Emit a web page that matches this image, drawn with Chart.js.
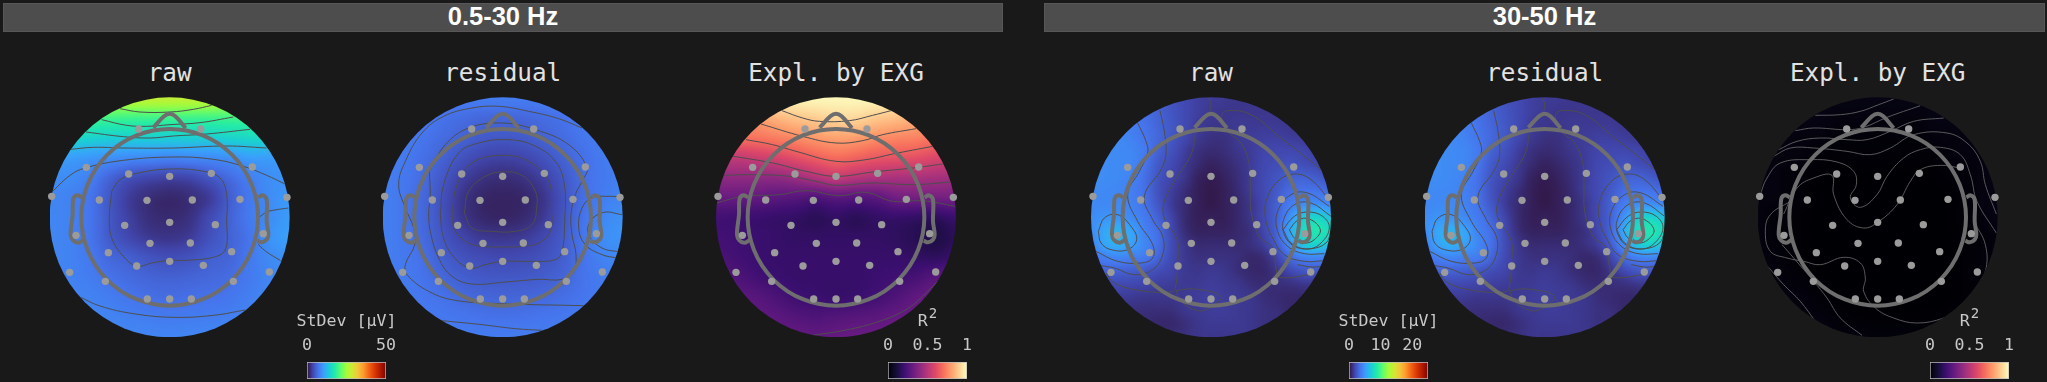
<!DOCTYPE html>
<html><head><meta charset="utf-8">
<script src="https://cdn.jsdelivr.net/npm/chart.js@4"></script>
<style>
html,body{margin:0;padding:0;background:#191919;width:2047px;height:382px;overflow:hidden}
#root{position:relative;width:2047px;height:382px}
.hdr{position:absolute;top:3px;height:27px;background:#4d4d4d;border:1px solid #575757;color:#fff;font:bold 25.5px "Liberation Sans",Arial,sans-serif;line-height:25px;text-align:center;box-sizing:content-box}
.ttl{position:absolute;top:57px;width:240px;text-align:center;color:#e2e2e2;font:24.3px/32px "DejaVu Sans Mono",monospace}
.lg{position:absolute;top:311px;width:160px;text-align:center;color:#c8c8c8;font:16.6px/20px "DejaVu Sans Mono",monospace;white-space:pre}
.lg sup{font-size:14px;line-height:0;position:relative;vertical-align:baseline;top:-8px;margin-left:1px}
canvas{position:absolute;display:block}
</style></head><body><div id="root"></div>
<script>
// ---------- labels ----------
const bandLabels=["0.5-30 Hz","30-50 Hz"];
const panelTitles=["raw","residual","Expl. by EXG","raw","residual","Expl. by EXG"];

// ---------- sensor positions (scalp units, head 0 centred at 389,388) ----------
const sensorX=[296,482,139,266,389,514,637,35,178,321,457,600,741,254,389,526,108,670,330,451,205,575,290,389,490,89,688,196,580,322,389,454];
const sensorY=[123,123,238,258,265,256,237,325,336,337,336,334,328,412,403,410,442,437,466,465,494,491,534,520,532,553,552,580,580,633,633,633];
const noseLine=[[340,119],[372,85],[389,77],[406,85],[437,120]];
const earLeft=[[125,328],[112,322],[100,332],[98,380],[92,440],[100,458],[115,464],[130,456]];
const earRight=[[655,328],[668,322],[680,335],[680,400],[685,440],[680,455],[665,463],[652,458]];

// ---------- field values ----------
const field1=[ // StDev uV, 0.5-30 Hz raw
[26,26.5,27,27,27.5,27.5,27.5,27.5,27.5,27,27,26.5,26],
[20,20,20,19.8,19.6,19.6,19.6,19.6,19.6,19.8,20,20,20],
[15.5,15.5,15,14.5,14.5,14.5,14.5,14.5,14.5,15,15.5,15.5,15.5],
[10.5,10.5,10,9.5,9,8.8,8.5,8.8,9,9.5,10.5,10.5,10.5],
[9,9,8,6,4.5,3.8,3.5,3.8,5,6.5,8,9.2,9.5],
[8.5,8.2,7.2,5,3,2,1.6,2,3,5.5,7.5,9,10],
[8.5,8.2,7.2,5,3.2,2,1.8,2.2,4,5.8,7.6,9,10.2],
[8.5,8.2,7.2,5.2,3.8,2.8,2.5,3,4.5,5.8,7.2,9.5,10.5],
[8.5,8.2,7.5,6.2,5.5,4.7,4.3,4.6,5.5,6,7.5,8.8,9.5],
[8.5,8.2,7.8,7,6.4,5.9,5.7,5.9,6.2,6.6,7.6,8.5,8.8],
[8.6,8.4,8.2,7.8,7.2,6.8,6.6,6.8,7,7.3,8,8.5,8.8],
[8.8,8.6,8.5,8.3,8,7.8,7.6,7.7,7.8,8,8.3,8.6,8.8],
[9,9,8.8,8.7,8.6,8.5,8.4,8.5,8.6,8.7,8.8,9,9]];
const field2=[ // StDev uV, 0.5-30 Hz residual
[7.8,7.8,7.8,7.8,7.8,7.8,7.8,7.8,7.8,7.8,7.8,7.8,7.8],
[8,8,7.6,7,6.6,6.2,6.2,6.2,6.6,7,7.6,8,8],
[8,7.8,7.2,6.5,5.8,5.2,5,5.2,5.8,6.5,7.2,7.8,8],
[8,7.6,6.8,5.8,4.6,3.7,3.4,3.7,4.6,5.8,6.8,7.6,8],
[8,7.4,6.5,5,3.3,2.3,2,2.3,3.3,5,6.6,7.5,8],
[8,7.3,6.2,4.5,2.5,1.5,1.3,1.5,2.5,4.6,6.6,7.8,8.4],
[8,7.3,6.2,4.5,2.6,1.6,1.4,1.7,2.8,4.8,7,8.5,9.3],
[8,7.4,6.4,4.9,3.6,2.8,2.6,2.9,3.8,5.2,7.2,9,9.6],
[8,7.5,6.8,5.5,4.6,4.1,3.9,4.1,4.6,5.5,7,8.2,8.7],
[8,7.6,7,6.2,5.5,5.1,5,5.1,5.4,6,7,7.7,8],
[8,7.7,7.3,6.9,6.4,6.1,6,6.1,6.3,6.7,7.2,7.6,7.9],
[8,7.9,7.6,7.4,7.2,7,6.9,7,7.2,7.4,7.6,7.8,8],
[8,8,7.9,7.8,7.8,7.7,7.7,7.8,7.8,7.9,7.9,8,8]];
const field3=[ // R2, 0.5-30 Hz
[.93,.95,.97,.98,.99,.99,.99,.99,.99,.98,.97,.95,.93],
[.76,.78,.80,.85,.88,.90,.92,.92,.89,.87,.84,.80,.78],
[.70,.70,.71,.73,.76,.79,.81,.80,.77,.75,.74,.71,.70],
[.55,.53,.55,.58,.62,.66,.69,.67,.64,.63,.62,.59,.57],
[.41,.41,.41,.41,.44,.49,.53,.50,.48,.47,.47,.46,.45],
[.31,.31,.30,.28,.27,.25,.28,.27,.28,.33,.34,.34,.34],
[.22,.21,.20,.19,.18,.16,.18,.16,.18,.19,.18,.17,.20],
[.22,.21,.20,.19,.18,.18,.18,.18,.18,.17,.15,.13,.16],
[.24,.22,.20,.19,.19,.19,.19,.19,.19,.19,.18,.17,.20],
[.28,.25,.22,.20,.19,.19,.19,.19,.20,.21,.23,.27,.29],
[.30,.28,.27,.24,.21,.20,.19,.20,.22,.25,.29,.31,.32],
[.30,.30,.29,.28,.26,.25,.26,.27,.28,.30,.31,.31,.32],
[.30,.30,.30,.30,.30,.29,.30,.31,.31,.31,.31,.31,.32]];
const field4=[ // StDev uV, 30-50 Hz raw
[4.3,4,3.8,3.5,3,2.8,2.3,2,1.6,1.5,1.4,1.3,1.3,1.3,1.3,1.3,1.3,1.3,1.3],
[4.3,4.3,4,3.8,3.3,2.9,2.4,2,1.6,1.4,1.3,1.3,1.3,1.3,1.3,1.3,1.3,1.3,1.3],
[4.5,4.4,4.3,3.9,3.5,3,2.5,2,1.5,1.3,1.3,1.4,1.4,1.4,1.4,1.3,1.3,1.3,1.3],
[4.5,4.5,4.4,4.1,3.6,3.1,2.5,1.9,1.4,1.1,1.1,1.4,1.5,1.6,1.6,1.5,1.4,1.3,1.3],
[4.5,4.5,4.4,4.3,3.8,2.9,2.3,1.6,1.1,.9,1,1.3,1.5,1.8,1.9,1.9,1.8,1.5,1.3],
[4.5,4.5,4.4,4.3,3.6,2.6,2,1.4,.9,.6,.8,1.1,1.5,1.9,2.1,2.3,2.1,1.9,1.5],
[4.5,4.5,4.4,4.1,3.4,2.4,1.8,1.3,.6,.4,.6,1,1.5,2,2.4,2.8,2.9,2.6,2.3],
[4.4,4.4,4.3,4,3.4,2.3,1.6,1,.5,.3,.5,.9,1.5,2,2.6,3.3,3.5,3.5,3.1],
[4.3,4.4,4.4,4.1,3.5,2.5,1.5,.9,.5,.3,.5,.8,1.3,2,2.9,3.9,4.5,4.6,4.3],
[4.5,4.8,4.8,4.4,3.8,2.9,1.8,.9,.5,.5,.5,.8,1.3,2,3,4.9,7,7.5,6.6],
[4.5,5.5,6,5.4,4.1,3.3,2,1,.6,.6,.6,.8,1.1,1.9,3.1,5.8,8,8.5,7.8],
[4.1,5.4,5.9,5.3,4.3,3.4,2.1,1.3,.9,.9,.9,.9,1.1,1.6,2.8,4.8,7,7.4,6.6],
[3.5,4,4.3,4,3.8,3,2,1.4,1.1,1.1,1.1,1,.8,1,1.9,3.3,4.1,4.3,3.8],
[2.8,2.9,2.9,2.8,2.5,2.1,1.8,1.4,1.3,1.4,1.3,1,.8,.8,1.3,2,2.5,2.5,2.3],
[2,2,2,1.9,1.8,1.6,1.5,1.4,1.4,1.5,1.4,1.3,1,.9,1,1.1,1.3,1.3,1.1],
[1.5,1.5,1.5,1.4,1.3,1.3,1.3,1.4,1.5,1.6,1.5,1.4,1.3,1,.9,.8,.8,.8,.8],
[1.3,1.3,1.3,1.1,1,1,1,1.3,1.4,1.5,1.5,1.4,1.3,1.1,1,.8,.8,.8,.8],
[1.3,1.3,1.3,1,.9,.8,.8,1,1.3,1.4,1.4,1.4,1.3,1.1,1.1,1,.8,.8,.8],
[1.3,1.3,1.3,1,.9,.9,1,1.1,1.3,1.3,1.3,1.3,1.3,1.3,1.3,1.3,1,1,1]];
const field5=field4; // residual 30-50 Hz reads the same as raw at this precision
const field6=[ // R2, 30-50 Hz
[.03,.03,.03,.03,.03,.03,.03,.03,.03,.03,.03,.03,.03],
[.03,.03,.03,.03,.02,.02,.02,.02,.02,.03,.03,.03,.03],
[.03,.03,.02,.02,.01,.01,.01,.01,.01,.02,.02,.03,.03],
[.03,.02,.02,.01,.005,.005,.005,.005,.005,.01,.02,.02,.03],
[.03,.02,.01,.003,0,0,0,0,0,.003,.01,.02,.03],
[.02,.02,.01,0,0,0,0,0,0,0,.005,.02,.03],
[.02,.01,.005,0,0,0,0,0,0,0,.005,.015,.03],
[.02,.01,.005,0,0,0,0,0,0,0,.003,.01,.02],
[.02,.015,.005,0,0,0,0,0,0,0,.003,.01,.02],
[.03,.02,.01,.002,0,0,0,0,0,0,.003,.01,.02],
[.03,.02,.02,.01,.002,0,0,0,0,0,.003,.01,.02],
[.03,.03,.02,.02,.01,.005,.003,.003,.003,.005,.01,.015,.02],
[.03,.03,.03,.03,.02,.02,.015,.015,.015,.02,.02,.02,.03]];

// ---------- contour lines (scalp units) ----------
const contours1=[
[[240,62],[300,72],[390,72],[460,64],[515,52]],
[[185,95],[260,112],[320,115],[390,110],[480,104],[580,87]],
[[138,132],[250,146],[330,150],[400,144],[500,138],[630,124]],
[[92,184],[160,178],[250,180],[400,180],[560,174],[680,180]],
[[38,310],[90,262],[135,240],[250,217],[400,207],[520,214],[610,235],[680,262],[735,288]],
[[215,310],[240,275],[290,256],[390,243],[490,250],[540,270],[560,320],[560,400],[558,480],[530,505],[440,517],[389,517],[340,524],[290,534],[250,505],[215,450],[208,390],[215,310]],
[[655,390],[680,372],[705,366],[745,360]],
[[655,470],[680,492],[722,518]],
[[122,628],[180,654],[280,677],[400,688],[520,682],[615,666]]];
const contours2=[
[[630,120],[560,92],[470,70],[380,55],[300,60],[215,85],[150,135],[100,220],[80,290],[100,360],[125,420],[128,470],[100,530],[105,560],[170,610],[250,637],[390,647],[635,653]],
[[172,250],[175,330],[170,370],[175,430],[200,510],[240,565],[300,588],[400,582],[500,574],[570,574],[605,550],[612,500],[600,440],[597,380],[610,320],[630,280],[645,240],[590,170],[490,125],[390,105],[290,120],[220,170],[172,250]],
[[205,380],[215,290],[260,195],[320,165],[400,155],[480,170],[550,220],[577,290],[578,400],[570,490],[550,515],[470,520],[392,520],[340,530],[292,540],[240,500],[212,440],[205,380]],
[[240,380],[255,290],[300,225],[390,202],[470,220],[530,280],[538,360],[535,430],[500,465],[450,475],[390,477],[330,475],[290,465],[250,430],[240,380]],
[[277,375],[290,310],[340,265],[390,252],[450,262],[490,310],[494,360],[480,410],[430,430],[360,430],[300,420],[277,375]],
[[750,326],[700,325],[660,328],[630,360],[620,420],[640,470],[690,500],[735,510]],
[[750,380],[695,373],[655,400],[650,440],[690,480],[745,492]],
[[210,698],[330,710],[430,722],[510,727]]];
const contours3=[
[[228,68],[290,90],[340,100],[430,98],[500,82],[555,68]],
[[165,108],[290,145],[390,165],[470,158],[530,140],[630,122]],
[[120,155],[200,170],[270,190],[390,220],[480,215],[560,198],[680,175]],
[[82,205],[200,225],[300,250],[390,265],[500,252],[620,240],[710,228]],
[[55,262],[140,260],[250,265],[330,280],[390,292],[500,285],[620,290],[735,282]],
[[32,345],[110,325],[220,320],[300,308],[400,323],[480,313],[560,340],[650,338],[748,355]],
[[320,742],[420,726],[520,700],[600,665],[650,625],[695,580]]];
const contours4=[
[[383,30],[390,50],[385,78]],
[[237,68],[250,130],[255,200],[240,245],[190,325],[215,395],[245,445],[245,500],[215,545],[160,560],[100,540],[60,533]],
[[170,105],[195,160],[200,195],[175,250],[140,320],[170,400],[215,470],[215,510],[180,525],[110,520],[45,490]],
[[345,130],[330,200],[280,280],[250,340],[250,390],[290,460],[290,530],[283,600],[270,612],[180,608],[100,585],[75,555]],
[[285,608],[340,603],[420,625],[385,660],[350,668],[300,640],[285,608]],
[[725,250],[690,220],[600,150],[510,80],[440,68],[422,85],[440,130],[480,165],[505,230],[508,300],[510,370],[535,445],[575,480],[585,540],[595,568],[700,558]],
[[748,340],[690,275],[640,258],[590,280],[555,340],[555,400],[575,450],[610,500],[670,520],[730,518]],
[[745,355],[680,315],[630,320],[590,370],[590,430],[620,475],[670,497],[730,497]],
[[750,385],[690,345],[640,350],[608,395],[610,440],[640,475],[690,482],[735,465],[750,430]],
[[606,425],[640,385],[680,372],[725,385],[745,420],[720,465],[680,483],[630,465],[606,425]],
[[625,425],[650,397],[685,393],[718,425],[700,455],[670,465],[640,450],[625,425]],
[[650,530],[690,537],[725,535]],
[[52,430],[70,390],[110,380],[150,415],[167,455],[140,485],[90,485],[60,465],[52,430]]];
const contours5=contours4;
const contours6=[
[[205,82],[280,80],[340,70],[395,50],[440,33]],
[[145,128],[200,120],[300,125],[350,118],[420,88],[520,53]],
[[95,185],[150,160],[220,150],[300,155],[360,155],[430,130],[500,100],[590,90]],
[[80,205],[130,180],[200,180],[300,190],[370,200],[430,180],[500,140],[600,135],[660,165],[700,220],[715,290],[748,378]],
[[38,325],[60,270],[100,225],[190,215],[270,222],[320,250],[328,290],[310,330],[340,358],[390,320],[420,265],[470,210],[520,185],[580,178],[640,200],[670,260],[690,340],[748,435]],
[[110,378],[150,300],[200,270],[255,262],[260,320],[300,395],[350,420],[392,403],[450,350],[490,280],[520,245],[580,232],[640,240]],
[[130,340],[70,380],[55,430],[70,490],[120,510],[170,520],[220,530],[290,508],[340,525],[355,570],[350,610],[385,660],[440,690],[510,705],[590,690],[670,650],[715,550],[715,470],[680,400]],
[[62,535],[110,590],[160,640],[205,700]],
[[105,470],[140,510],[200,580],[240,630],[280,690],[345,742]]];

// ---------- colormaps ----------
const turboStops=["#30123B","#4145AB","#4675ED","#39A2FC","#1BCFD4","#24ECA6","#61FC6C","#A4FC3B","#D1E834","#F3C63A","#FE9B2D","#F36315","#D93806","#B11901","#7A0402"];
const magmaStops=["#000004","#140E36","#3B0F70","#641A80","#8C2981","#B73779","#DE4968","#F7705C","#FE9F6D","#FECF92","#FCFDBF"];
const rgb=h=>[parseInt(h.slice(1,3),16),parseInt(h.slice(3,5),16),parseInt(h.slice(5,7),16)];
function cmap(stops,t){t=Math.max(0,Math.min(1,t))*(stops.length-1);const i=Math.min(stops.length-2,Math.floor(t)),f=t-i,a=rgb(stops[i]),b=rgb(stops[i+1]);return [0,1,2].map(k=>a[k]+(b[k]-a[k])*f);}

// ---------- layout ----------
const panels=[
{left:40, cx:389,field:field1,lines:contours1,shift:0,stops:turboStops,vmax:50},
{left:372,cx:392,field:field2,lines:contours2,shift:0,stops:turboStops,vmax:50},
{left:706,cx:390,field:field3,lines:contours3,shift:0,stops:magmaStops,vmax:1},
{left:1081,cx:390,field:field4,lines:contours4,shift:0,stops:turboStops,vmax:25},
{left:1414,cx:392,field:field5,lines:contours5,shift:2,stops:turboStops,vmax:25},
{left:1747,cx:392,field:field6,lines:contours6,shift:0,stops:magmaStops,vmax:1,light:true}];
const CY=388,R=360,HEAD=265;
const colorbars=[
{left:307,vmax:50,ticks:[0,50],stops:turboStops,title:"StDev [μV]"},
{left:888,vmax:1,ticks:[0,.5,1],stops:magmaStops,title:"R<sup>2</sup>"},
{left:1349,vmax:25,ticks:[0,10,20],stops:turboStops,title:"StDev [μV]"},
{left:1930,vmax:1,ticks:[0,.5,1],stops:magmaStops,title:"R<sup>2</sup>"}];

const root=document.getElementById("root");
function addDiv(cls,html,style){const d=document.createElement("div");d.className=cls;d.innerHTML=html;Object.assign(d.style,style);root.appendChild(d);return d;}
addDiv("hdr",bandLabels[0],{left:"3px",width:"998px"});
addDiv("hdr",bandLabels[1],{left:"1044px",width:"999px"});

function catmull(p0,p1,p2,p3,t){return .5*(2*p1+(p2-p0)*t+(2*p0-5*p1+4*p2-p3)*t*t+(3*p1-p0-3*p2+p3)*t*t*t);}
function sample(m,u,v){ // u,v in grid index space
  const rows=m.length,cols=m[0].length,g=(r,c)=>m[Math.max(0,Math.min(rows-1,r))][Math.max(0,Math.min(cols-1,c))];
  const c=Math.floor(u),r=Math.floor(v),fu=u-c,fv=v-r,w=[];
  for(let j=-1;j<3;j++)w.push(catmull(g(r+j,c-1),g(r+j,c),g(r+j,c+1),g(r+j,c+2),fu));
  return catmull(w[0],w[1],w[2],w[3],fv);
}
function topoPlugin(p){
  const cx=p.cx,N=64;
  const off=document.createElement("canvas");off.width=off.height=N;
  const oc=off.getContext("2d"),img=oc.createImageData(N,N);
  return {id:"topoField",
    beforeDatasetsDraw(chart){
      const ds=chart.data.datasets.find(d=>d.label==="field");
      const rows=p.field.length,cols=p.field[0].length;
      const m=[];for(let r=0;r<rows;r++){m.push(ds.data.slice(r*cols,(r+1)*cols).map(q=>q.v));}
      for(let j=0;j<N;j++)for(let i=0;i<N;i++){
        const val=sample(m,(i+.5)/N*(cols-1),(j+.5)/N*(rows-1));
        const c=cmap(p.stops,val/p.vmax),o=(j*N+i)*4;
        img.data[o]=c[0];img.data[o+1]=c[1];img.data[o+2]=c[2];img.data[o+3]=255;
      }
      oc.putImageData(img,0,0);
      const {x,y}=chart.scales,ctx=chart.ctx,x0=x.getPixelForValue(cx-R),x1=x.getPixelForValue(cx+R),y0=y.getPixelForValue(CY-R),y1=y.getPixelForValue(CY+R);
      ctx.save();ctx.beginPath();ctx.arc((x0+x1)/2,(y0+y1)/2,(x1-x0)/2,0,Math.PI*2);ctx.clip();
      ctx.imageSmoothingEnabled=true;ctx.drawImage(off,x0,y0,x1-x0,y1-y0);ctx.restore();
    },
    beforeDatasetDraw(chart,args){
      if(chart.data.datasets[args.index].label!=="contour")return;
      const {x,y}=chart.scales,ctx=chart.ctx,x0=x.getPixelForValue(cx-R),x1=x.getPixelForValue(cx+R);
      ctx.save();ctx.beginPath();ctx.arc((x0+x1)/2,y.getPixelForValue(CY),(x1-x0)/2,0,Math.PI*2);ctx.clip();
    },
    afterDatasetDraw(chart,args){if(chart.data.datasets[args.index].label==="contour")chart.ctx.restore();}
  };
}
const HEADC="#6e6e6e",DOT="#9b9b9b";
panels.forEach((p,idx)=>{
  addDiv("ttl",panelTitles[idx],{left:(p.left+p.cx/3-120)+"px"});
  const cv=document.createElement("canvas");cv.style.left=p.left+"px";cv.style.top="88px";cv.style.width="260px";cv.style.height="260px";cv.width=260;cv.height=260;root.appendChild(cv);
  const dx=p.cx-389,rows=p.field.length,cols=p.field[0].length,fd=[];
  for(let r=0;r<rows;r++)for(let c=0;c<cols;c++)fd.push({x:p.cx-R+c/(cols-1)*2*R,y:CY-R+r/(rows-1)*2*R,v:p.field[r][c]});
  const pts=a=>a.map(q=>({x:q[0],y:q[1]}));
  const ptsH=a=>a.map(q=>({x:q[0]+dx,y:q[1]}));
  const lineDs=(d,col,w,order,label,t)=>({label,data:d,showLine:true,borderColor:col,borderWidth:w,pointRadius:0,tension:t,fill:false,order});
  const datasets=[
    {label:"sensors",data:sensorX.map((x,i)=>({x:x+dx,y:sensorY[i]})),pointRadius:3.7,pointBackgroundColor:DOT,pointBorderWidth:0,showLine:false,order:0},
    {label:"head",data:[{x:p.cx,y:CY}],showLine:false,order:1,pointBackgroundColor:"rgba(0,0,0,0)",pointBorderColor:HEADC,pointBorderWidth:4,
      pointRadius:c=>c.chart.scales.x.getPixelForValue(p.cx+HEAD)-c.chart.scales.x.getPixelForValue(p.cx)},
    lineDs(ptsH(noseLine),HEADC,4,1,"nose",.35),
    lineDs(ptsH(earLeft),HEADC,4,1,"ear",.35),
    lineDs(ptsH(earRight),HEADC,4,1,"ear",.35),
    ...p.lines.map(l=>lineDs(pts(l.map(q=>[q[0]+p.shift,q[1]])),p.light?"#707070":"#4e4e4e",p.light?.8:1,2,"contour",.4)),
    {label:"field",data:fd,pointRadius:0,showLine:false,order:3}
  ];
  new Chart(cv,{type:"scatter",data:{datasets},plugins:[topoPlugin(p)],options:{
    responsive:false,animation:false,events:[],layout:{padding:0,autoPadding:false},
    plugins:{legend:{display:false},tooltip:{enabled:false},title:{display:false}},
    scales:{x:{type:"linear",display:false,min:0,max:780},y:{type:"linear",display:false,min:0,max:780,reverse:true}}
  }});
});
colorbars.forEach(b=>{
  addDiv("lg",b.title,{left:(b.left+39.5-80)+"px"});
  const cv=document.createElement("canvas");cv.style.left=(b.left-30)+"px";cv.style.top="336px";cv.style.width="139px";cv.style.height="46px";cv.width=139;cv.height=46;root.appendChild(cv);
  new Chart(cv,{type:"bar",data:{labels:["scale"],datasets:[{data:[[0,b.vmax]],borderColor:"#bdbdbd",borderWidth:1,borderSkipped:false,barPercentage:1,categoryPercentage:1,
    backgroundColor:c=>{const a=c.chart.chartArea;if(!a)return "#000";const g=c.chart.ctx.createLinearGradient(a.left,0,a.right,0);b.stops.forEach((s,i)=>g.addColorStop(i/(b.stops.length-1),s));return g;}}]},
    options:{indexAxis:"y",responsive:false,animation:false,events:[],layout:{padding:{left:30,right:30,top:0,bottom:3}},
    plugins:{legend:{display:false},tooltip:{enabled:false}},
    scales:{x:{type:"linear",position:"top",min:0,max:b.vmax,grid:{display:false,drawTicks:false},border:{display:false},
      afterBuildTicks:s=>{s.ticks=b.ticks.map(v=>({value:v}));},afterFit:s=>{s.height=26;},
      ticks:{color:"#c8c8c8",padding:6,autoSkip:false,maxRotation:0,font:{family:"DejaVu Sans Mono",size:16.6},callback:v=>String(v)}},
      y:{display:false}}}});
});
</script></body></html>
